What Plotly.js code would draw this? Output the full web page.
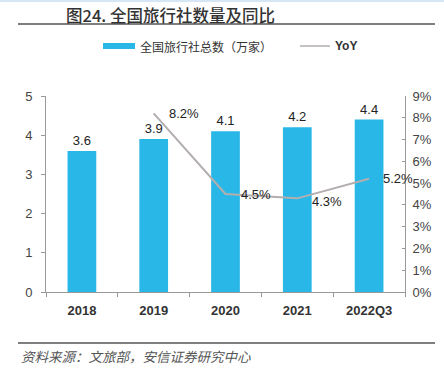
<!DOCTYPE html>
<html><head><meta charset="utf-8">
<script src="https://cdn.plot.ly/plotly-3.0.1.min.js"></script>
<style>body{margin:0;padding:0;background:#fff}#c{width:444px;height:369px}</style>
</head><body><div id="c"></div>
<script>
const categories = ['2018','2019','2020','2021','2022Q3'];
const agencies = [3.6, 3.9, 4.1, 4.2, 4.4];
const yoy = [null, 8.2, 4.5, 4.3, 5.2];
const yoyLabels = ['', '8.2%', '4.5%', '4.3%', '5.2%'];
const seriesNames = ['全国旅行社总数（万家）', 'YoY'];

const L=46, R=405, T=96, B=292;
const W=444, H=369;
const px = x => (x - L)/(R - L);
const py = y => (B - y)/(B - T);

const data = [
  {type:'bar', x:categories, y:agencies, name:seriesNames[0],
   marker:{color:'#29b7e8'}, width:0.4,
   text:agencies.map(v=>v.toFixed(1)), textposition:'outside', cliponaxis:false,
   textfont:{family:'Liberation Sans, Arial', size:13, color:'#222'}},
  {type:'scatter', mode:'lines', x:categories, y:yoy, yaxis:'y2', name:seriesNames[1],
   line:{color:'#b4aeae', width:2}}
];

const labelShift = [0, 13, 13, 13, 12];
const labelYShift = [0, 0, 0, -3, 0];
const yoyAnn = categories.map((c,i)=> yoy[i]==null ? null : ({
  x:i, y:yoy[i], xref:'x', yref:'y2', text:yoyLabels[i], showarrow:false,
  xanchor:'left', yanchor:'middle', xshift:labelShift[i], yshift:labelYShift[i],
  font:{family:'Liberation Sans, Arial', size:13, color:'#222'}
})).filter(a=>a);

const layout = {
  width:W, height:H, margin:{l:L, r:W-R, t:T, b:H-B},
  paper_bgcolor:'#fff', plot_bgcolor:'#fff',
  font:{family:'Liberation Sans, Arial', color:'#444'},
  showlegend:false,
  xaxis:{type:'category', categoryarray:categories, range:[-0.5,4.5],
    tickson:'boundaries', ticks:'outside', ticklen:4, tickcolor:'#999',
    showline:true, linecolor:'#999', linewidth:1, showgrid:false, ticklabelstandoff:6,
    tickfont:{family:'Liberation Sans, Arial', size:13, color:'#333', weight:'bold'}},
  yaxis:{range:[0,5], dtick:1, ticks:'outside', ticklen:4, tickcolor:'#999',
    showline:true, linecolor:'#999', showgrid:false, zeroline:false, ticklabelstandoff:6,
    tickfont:{family:'Liberation Sans, Arial', size:13, color:'#444'}},
  yaxis2:{range:[0,9], dtick:1, overlaying:'y', side:'right', ticksuffix:'%',
    ticks:'inside', ticklen:3, tickcolor:'#999', showline:true, linecolor:'#999',
    showgrid:false, zeroline:false, ticklabelstandoff:4,
    tickfont:{family:'Liberation Sans, Arial', size:13, color:'#444'}},
  shapes:[
    {type:'line', xref:'paper', yref:'paper', x0:px(0), x1:px(444), y0:py(1), y1:py(1),
     line:{color:'#d6e6f5', width:2}},
    {type:'line', xref:'paper', yref:'paper', x0:px(18), x1:px(435), y0:py(24), y1:py(24),
     line:{color:'#555', width:1.5}},
    {type:'line', xref:'paper', yref:'paper', x0:px(18), x1:px(435), y0:py(343), y1:py(343),
     line:{color:'#555', width:1.5}},
    {type:'rect', xref:'paper', yref:'paper', x0:px(103), x1:px(135), y0:py(43), y1:py(49),
     fillcolor:'#29b7e8', line:{width:0}},
    {type:'line', xref:'paper', yref:'paper', x0:px(300), x1:px(330), y0:py(46), y1:py(46),
     line:{color:'#b4aeae', width:1.5}}
  ],
  annotations:[
    {xref:'paper', yref:'paper', x:px(64), y:py(15), xanchor:'left', yanchor:'middle',
     text:'图24. 全国旅行社数量及同比', showarrow:false,
     font:{family:'Noto Sans CJK SC', size:16.5, color:'#333', weight:500}},
    {xref:'paper', yref:'paper', x:px(138), y:py(46), xanchor:'left', yanchor:'middle',
     text:seriesNames[0], showarrow:false,
     font:{family:'Noto Sans CJK SC', size:12, color:'#333'}},
    {xref:'paper', yref:'paper', x:px(333), y:py(46), xanchor:'left', yanchor:'middle',
     text:seriesNames[1], showarrow:false,
     font:{family:'Liberation Sans, Arial', size:12, color:'#333', weight:'bold'}},
    {xref:'paper', yref:'paper', x:px(19), y:py(356), xanchor:'left', yanchor:'middle',
     text:'<i>资料来源：文旅部，安信证券研究中心</i>', showarrow:false,
     font:{family:'Noto Sans CJK SC', size:13.5, color:'#555'}},
    ...yoyAnn
  ]
};
Plotly.newPlot('c', data, layout, {displayModeBar:false, staticPlot:true});
</script></body></html>
